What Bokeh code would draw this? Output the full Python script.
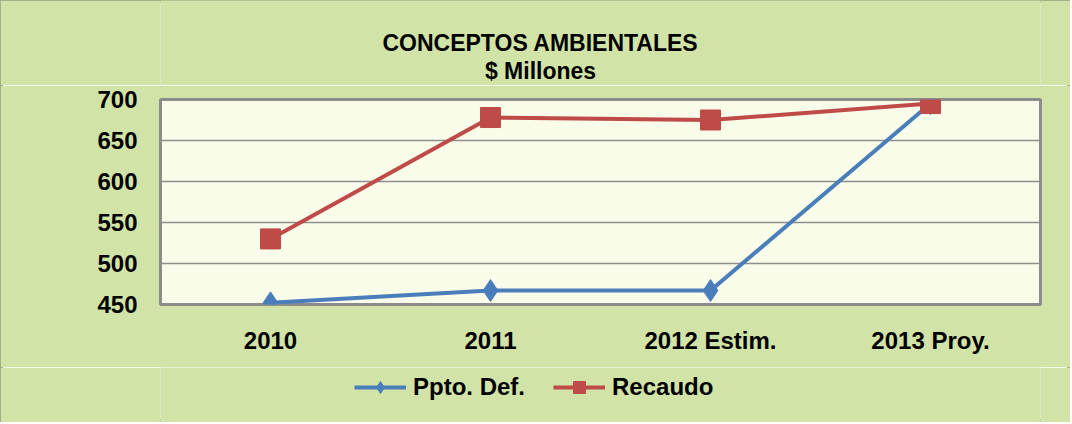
from bokeh.plotting import figure
from bokeh.models import Legend, LegendItem, Range1d, FixedTicker, Label
from bokeh.layouts import column
from bokeh.embed import file_html
from bokeh.resources import INLINE

categories = ["2010", "2011", "2012 Estim.", "2013 Proy."]
ppto_def = [452, 467, 467, 695]
recaudo = [530, 678, 675, 695]
y_ticks = [450, 500, 550, 600, 650, 700]
title_line1 = "CONCEPTOS AMBIENTALES"
title_line2 = "$ Millones"
series_names = ["Ppto. Def.", "Recaudo"]

FONT = "Liberation Sans"
GREEN = "#d1e3a7"
BLUE = "#4a7ebb"
RED = "#be4b48"
W = 1070


def blank(height):
    f = figure(width=W, height=height, output_backend="svg",
               toolbar_location=None, x_range=categories, y_range=Range1d(0, 1),
               min_border=0, min_border_left=0, min_border_right=0,
               min_border_top=0, min_border_bottom=0)
    f.axis.visible = False
    f.grid.visible = False
    f.outline_line_color = None
    f.background_fill_color = GREEN
    f.border_fill_color = GREEN
    return f


# --- title strip ---
pt = blank(85)
for txt, yy in ((title_line1, 43), (title_line2, 15)):
    pt.add_layout(Label(x=380, y=yy, x_units="screen", y_units="screen",
                        text=txt, text_align="center", text_baseline="middle",
                        text_font=FONT, text_font_style="bold",
                        text_font_size="23px", text_color="black"))

# --- main chart ---
p = figure(x_range=categories, y_range=Range1d(450, 700),
           width=W, height=282, output_backend="svg",
           toolbar_location=None, title=None,
           min_border_left=160, min_border_right=30,
           min_border_top=14, min_border_bottom=63)
p.background_fill_color = "#f8fce9"
p.border_fill_color = GREEN
p.outline_line_color = "#8c8c8c"
p.outline_line_width = 3
p.xgrid.grid_line_color = None
p.ygrid.grid_line_color = "#8e8e8e"
p.ygrid.grid_line_width = 1.5
p.yaxis.ticker = FixedTicker(ticks=y_ticks)
for ax in (p.xaxis[0], p.yaxis[0]):
    ax.axis_line_color = None
    ax.major_tick_line_color = None
    ax.minor_tick_line_color = None
    ax.major_label_text_font = FONT
    ax.major_label_text_font_style = "bold"
    ax.major_label_text_font_size = "24px"
    ax.major_label_text_color = "black"
p.yaxis.major_label_standoff = 17
p.xaxis.major_label_standoff = 16

p.line(categories, ppto_def, line_color=BLUE, line_width=4)
p.scatter(categories, ppto_def, marker="diamond", size=22,
          fill_color=BLUE, line_color=BLUE)
p.line(categories, recaudo, line_color=RED, line_width=4)
p.scatter(categories, recaudo, marker="square", size=20,
          fill_color=RED, line_color=RED)

# --- legend strip (series drawn off-range, only their legend glyphs show) ---
pl = blank(55)
l1 = pl.line(categories, ppto_def, line_color=BLUE, line_width=4)
m1 = pl.scatter(categories, ppto_def, marker="diamond", size=22,
                fill_color=BLUE, line_color=BLUE)
l2 = pl.line(categories, recaudo, line_color=RED, line_width=4)
m2 = pl.scatter(categories, recaudo, marker="square", size=20,
                fill_color=RED, line_color=RED)
legend = Legend(items=[LegendItem(label=series_names[0], renderers=[l1, m1]),
                       LegendItem(label=series_names[1], renderers=[l2, m2])],
                orientation="horizontal", location=(194, 20),
                background_fill_alpha=0, border_line_color=None,
                padding=0, margin=0, spacing=28, label_standoff=7,
                glyph_width=52, glyph_height=30,
                label_text_font=FONT, label_text_font_style="bold",
                label_text_font_size="24px", label_text_color="black")
pl.add_layout(legend, "center")

layout = column(pt, p, pl, spacing=0,
                styles={"outline": "3px solid #93a07a", "outline-offset": "-3px"})
open("out.html", "w").write(file_html(layout, INLINE))
